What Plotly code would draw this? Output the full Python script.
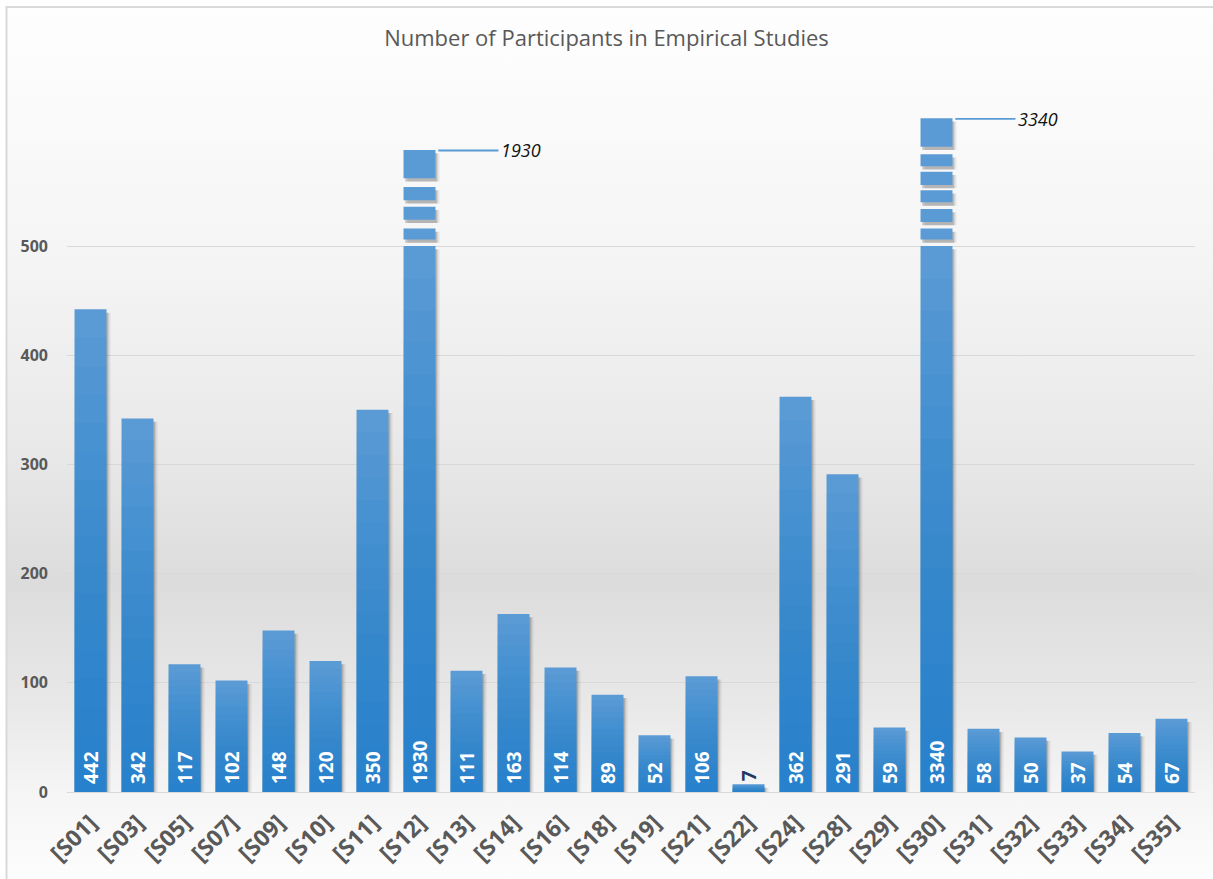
import base64
import plotly.graph_objects as go

# ---------------- data ----------------
categories = ["[S01]", "[S03]", "[S05]", "[S07]", "[S09]", "[S10]", "[S11]", "[S12]",
              "[S13]", "[S14]", "[S16]", "[S18]", "[S19]", "[S21]", "[S22]", "[S24]",
              "[S28]", "[S29]", "[S30]", "[S31]", "[S32]", "[S33]", "[S34]", "[S35]"]
participants = [442, 342, 117, 102, 148, 120, 350, 1930,
                111, 163, 114, 89, 52, 106, 7, 362,
                291, 59, 3340, 58, 50, 37, 54, 67]
y_tick_values = [0, 100, 200, 300, 400, 500]
axis_cap = 500
# broken-bar pieces drawn above the cap (start, end) in axis units
break_segments = {
    "[S12]": [(506, 516), (524, 536), (542, 554), (562, 588)],
    "[S30]": [(506, 516), (522, 534), (540, 551), (556, 568), (573, 584), (591, 617)],
}

# ---------------- layout geometry ----------------
W, H = 1213, 879
ML, MR, MT, MB = 67, 18, 115, 87
PW, PH = W - ML - MR, H - MT - MB
def px2paper_x(px):
    return (px - ML) / PW
def px2paper_y(py):
    return (H - MB - py) / PH

BAR_W = 0.68
BLUE = "#5b9bd5"
shown = [min(v, axis_cap) for v in participants]

seg_x, seg_base, seg_len = [], [], []
for cat, segs in break_segments.items():
    for a, b in segs:
        seg_x.append(cat)
        seg_base.append(a)
        seg_len.append(b - a)

fig = go.Figure()

# drop shadows
for off, alpha in [(0.03, 0.15), (0.06, 0.09), (0.09, 0.05)]:
    fig.add_bar(x=categories, y=[max(d - 3, 0) for d in shown], width=BAR_W,
                offset=-BAR_W / 2 + off, marker=dict(color=f"rgba(0,0,0,{alpha})", line_width=0),
                hoverinfo="skip", showlegend=False)
    fig.add_bar(x=seg_x, y=seg_len, base=[b - 3 for b in seg_base], width=BAR_W,
                offset=-BAR_W / 2 + off, marker=dict(color=f"rgba(0,0,0,{alpha})", line_width=0),
                hoverinfo="skip", showlegend=False)

# main bars
fig.add_bar(x=categories, y=shown, width=BAR_W, offset=-BAR_W / 2,
            marker=dict(color=BLUE, line_width=0), hoverinfo="skip", showlegend=False)
# vertical shading (darker toward the base)
N = 16
for k in range(1, N + 1):
    fig.add_bar(x=categories, y=[d * k / (N + 1) for d in shown], width=BAR_W, offset=-BAR_W / 2,
                marker=dict(color="rgba(20,115,200,0.06)", line_width=0),
                hoverinfo="skip", showlegend=False)
# broken pieces
fig.add_bar(x=seg_x, y=seg_len, base=seg_base, width=BAR_W, offset=-BAR_W / 2,
            marker=dict(color=BLUE, line_width=0), hoverinfo="skip", showlegend=False)

# value labels
fig.add_bar(x=categories, y=shown, width=BAR_W, offset=-BAR_W / 2,
            marker=dict(color="rgba(0,0,0,0)", line_width=0),
            text=[str(v) if v < 20 else "\u00a0" + str(v) for v in participants],
            textposition=["outside" if v < 20 else "inside" for v in participants],
            insidetextanchor="start", textangle=-90, constraintext="none",
            textfont=dict(family="Open Sans", size=19, weight="bold",
                          color=["#1f3864" if v < 20 else "white" for v in participants]),
            cliponaxis=False, hovertemplate="%{x}: %{text}<extra></extra>", showlegend=False)

# leader lines + labels for broken bars
shapes = []
annotations = []
for cat, segs in break_segments.items():
    i = categories.index(cat)
    top = segs[-1][1]
    shapes.append(dict(type="line", xref="x", yref="y", x0=i + 0.40, x1=i + 1.68,
                       y0=top - 0.5, y1=top - 0.5, line=dict(color=BLUE, width=1.8)))
    annotations.append(dict(xref="x", yref="y", x=i + 1.70, y=top - 0.5,
                            text=str(participants[i]), showarrow=False, xanchor="left",
                            yanchor="middle",
                            font=dict(family="Open Sans", size=18, style="italic", color="#111111")))

# chart border
shapes.append(dict(type="rect", xref="paper", yref="paper", layer="above",
                   x0=px2paper_x(6.5), x1=px2paper_x(1230), y0=px2paper_y(900), y1=px2paper_y(7),
                   line=dict(color="#d9d9d9", width=2), fillcolor="rgba(0,0,0,0)"))

# background gradient as svg image
svg = ('<svg xmlns="http://www.w3.org/2000/svg" width="100" height="100" preserveAspectRatio="none">'
       '<defs><linearGradient id="g" x1="0" y1="0" x2="0" y2="1">'
       '<stop offset="0" stop-color="#fefefe"/>'
       '<stop offset="0.28" stop-color="#f5f5f5"/>'
       '<stop offset="0.50" stop-color="#e9e9e9"/>'
       '<stop offset="0.66" stop-color="#dcdcdc"/>'
       '<stop offset="0.80" stop-color="#e8e8e8"/>'
       '<stop offset="0.90" stop-color="#f5f5f5"/>'
       '<stop offset="1" stop-color="#fdfdfd"/>'
       '</linearGradient></defs><rect width="100" height="100" fill="url(#g)"/></svg>')
src = "data:image/svg+xml;base64," + base64.b64encode(svg.encode()).decode()

fig.update_layout(
    width=W, height=H,
    margin=dict(l=ML, r=MR, t=MT, b=MB),
    barmode="overlay",
    paper_bgcolor="white",
    plot_bgcolor="rgba(0,0,0,0)",
    title=dict(text="Number of Participants in Empirical Studies", x=0.5, xref="container",
               xanchor="center", y=1 - 38 / H, yref="container", yanchor="middle",
               font=dict(family="Open Sans", size=22, color="#595959")),
    xaxis=dict(type="category", categoryorder="array", categoryarray=categories,
               range=[-0.5, len(categories) - 0.5], tickangle=-45, showgrid=False,
               showline=False, ticks="", zeroline=False, ticklabelstandoff=12,
               tickfont=dict(family="Open Sans", size=23, weight="bold", color="#595959")),
    yaxis=dict(range=[0, 620], tickvals=y_tick_values, showgrid=True, gridcolor="#d9d9d9",
               gridwidth=1, zeroline=True, zerolinecolor="#d9d9d9", zerolinewidth=1,
               showline=False, ticks="", ticklabelstandoff=18,
               tickfont=dict(family="Open Sans", size=16, weight="bold", color="#595959")),
    shapes=shapes,
    annotations=annotations,
    images=[dict(source=src, xref="paper", yref="paper", x=px2paper_x(7), y=px2paper_y(7),
                 sizex=(W - 7) / PW, sizey=(H - 7) / PH, sizing="stretch",
                 xanchor="left", yanchor="top", layer="below")],
)

fig.write_html("out.html", post_script="document.body.style.margin='0';",
               config={"displayModeBar": False})
